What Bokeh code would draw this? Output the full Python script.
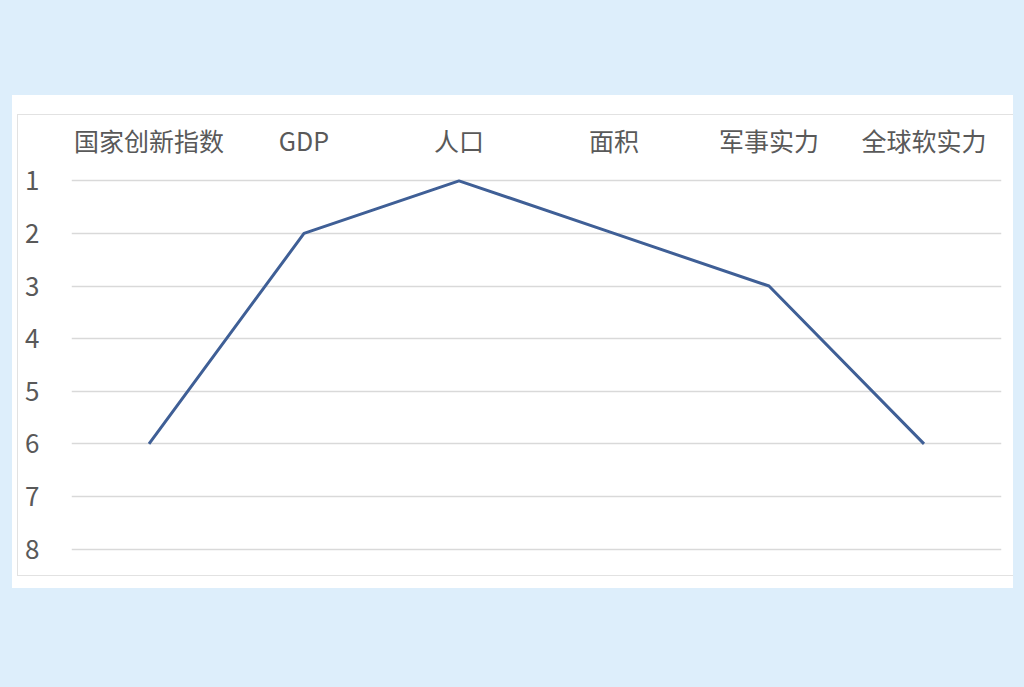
from bokeh.plotting import figure
from bokeh.models import (FactorRange, Range1d, FixedTicker, Spacer,
                          GlobalInlineStyleSheet)
from bokeh.layouts import column, row
from bokeh.embed import file_html
from bokeh.resources import INLINE

# ---- data ----
categories = ["国家创新指数", "GDP", "人口", "面积", "军事实力", "全球软实力"]
ranks = [6, 2, 1, 2, 3, 6]
y_ticks = [1, 2, 3, 4, 5, 6, 7, 8]

PAGE_BG = "#ddeefb"
TEXT = "#595959"
FONT = "Noto Sans CJK SC"

fig = figure(
    width=996, height=462,
    x_range=FactorRange(*categories, range_padding=0),
    y_range=Range1d(8.54, 0.785),
    output_backend="svg", toolbar_location=None,
    x_axis_location="above",
    min_border_left=53, min_border_right=13,
    min_border_top=54, min_border_bottom=0,
    background_fill_color="white", border_fill_color="white",
)
fig.outline_line_color = None

fig.line(categories, ranks, line_color="#3f5f96", line_width=3)

# axes
xa = fig.xaxis[0]
xa.axis_line_color = None
xa.major_tick_line_color = None
xa.minor_tick_line_color = None
xa.major_label_text_font = FONT
xa.major_label_text_font_size = "25px"
xa.major_label_text_color = TEXT
xa.major_label_standoff = 6

ya = fig.yaxis[0]
ya.ticker = FixedTicker(ticks=y_ticks)
ya.axis_line_color = None
ya.major_tick_line_color = None
ya.minor_tick_line_color = None
ya.major_label_text_font = FONT
ya.major_label_text_font_size = "26px"
ya.major_label_text_color = TEXT
ya.major_label_standoff = 26

fig.xgrid.grid_line_color = None
fig.ygrid.grid_line_color = "#d9d9d9"
fig.ygrid.grid_line_width = 1.5
fig.ygrid.ticker = FixedTicker(ticks=y_ticks)

# thin chart-area border lines (top, left, bottom)
fig.styles = {"border-top": "1px solid #e2e2e2",
              "border-left": "1px solid #e2e2e2",
              "border-bottom": "1px solid #e2e2e2"}

panel = column(Spacer(height=19), row(Spacer(width=5), fig), Spacer(height=12))
panel.styles = {"background-color": "white"}

p = column(Spacer(height=95), row(Spacer(width=12), panel))
p.stylesheets = [GlobalInlineStyleSheet(css="html, body { background-color: %s; }" % PAGE_BG)]

open("out.html", "w").write(file_html(p, INLINE))
